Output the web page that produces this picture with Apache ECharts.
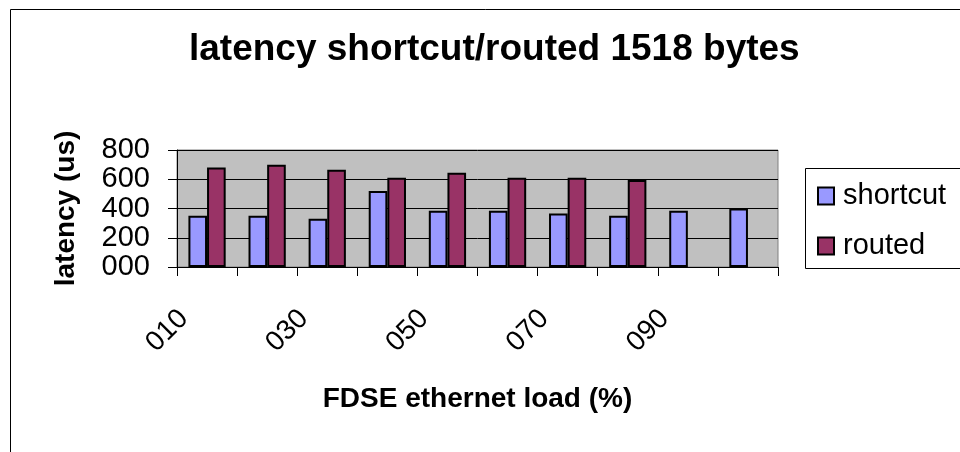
<!DOCTYPE html>
<html>
<head>
<meta charset="utf-8">
<title>latency shortcut/routed 1518 bytes</title>
<script src="https://cdn.jsdelivr.net/npm/echarts@6/dist/echarts.min.js"></script>
<style>
  html, body { margin: 0; padding: 0; background: #fff; }
  #chart { width: 960px; height: 452px; }
</style>
</head>
<body>
<div id="chart"></div>
<script>
// FDSE ethernet load (%), one category per 10 %
const categories = ['010', '020', '030', '040', '050', '060', '070', '080', '090', '100']
// latency in us
const shortcutData = [350, 350, 330, 520, 385, 385, 365, 350, 385, 400]
const routedData = [680, 700, 665, 610, 645, 610, 610, 595, null, null]
const seriesNames = ['shortcut', 'routed']
const yMax = 800
const yStep = 200

const font = '"Liberation Sans", Arial, sans-serif'

const chart = echarts.init(document.getElementById('chart'), null, { renderer: 'canvas' })

chart.setOption({
  animation: false,
  backgroundColor: '#fff',
  textStyle: { fontFamily: font, color: '#000' },
  title: {
    text: 'latency shortcut/routed 1518 bytes',
    left: 189,
    top: 31,
    padding: 0,
    textStyle: { fontSize: 37, fontWeight: 'bold', color: '#000', fontFamily: font },
  },
  // outer frame + legend box (frame runs off the right/bottom edge)
  graphic: [
    {
      type: 'rect',
      shape: { x: 10.5, y: 9.5, width: 1000, height: 500 },
      style: { fill: 'none', stroke: '#000', lineWidth: 1 },
      z: -10,
    },
    {
      type: 'rect',
      shape: { x: 805.5, y: 168.5, width: 200, height: 100 },
      style: { fill: '#fff', stroke: '#000', lineWidth: 1 },
      z: 1,
    },
  ],
  legend: {
    data: seriesNames,
    orient: 'vertical',
    left: 817,
    top: 181,
    padding: 0,
    itemGap: 20,
    itemWidth: 16,
    itemHeight: 17,
    icon: 'rect',
    z: 5,
    textStyle: { fontSize: 29, lineHeight: 30, color: '#000', fontFamily: font, padding: [0, 0, 0, 4] },
  },
  grid: {
    left: 177,
    top: 150,
    width: 601,
    height: 117,
    show: true,
    backgroundColor: '#c0c0c0',
    borderColor: '#808080',
    borderWidth: 1,
  },
  xAxis: {
    type: 'category',
    data: categories,
    name: 'FDSE ethernet load (%)',
    nameLocation: 'middle',
    nameGap: 118,
    nameTextStyle: { fontSize: 28, fontWeight: 'bold', color: '#000', fontFamily: font },
    axisLine: { lineStyle: { color: '#000', width: 1 } },
    axisTick: { show: true, interval: 0, length: 9, lineStyle: { color: '#000' } },
    axisLabel: {
      interval: 1,
      rotate: 45,
      margin: 24,
      fontSize: 28,
      color: '#000',
      fontFamily: font,
      padding: [0, 33, 0, 0],
    },
    splitLine: { show: false },
  },
  yAxis: {
    type: 'value',
    min: 0,
    max: yMax,
    interval: yStep,
    name: 'latency (us)',
    nameLocation: 'middle',
    nameGap: 97,
    nameTextStyle: { fontSize: 28, fontWeight: 'bold', color: '#000', fontFamily: font },
    axisLine: { show: true, lineStyle: { color: '#000', width: 1 } },
    axisTick: { show: true, length: 9, lineStyle: { color: '#000' } },
    axisLabel: {
      margin: 27,
      fontSize: 29,
      color: '#000',
      fontFamily: font,
      formatter: v => String(v).padStart(3, '0'),
    },
    splitLine: { show: true, lineStyle: { color: '#000', width: 1 } },
  },
  series: [
    {
      name: seriesNames[0],
      type: 'bar',
      data: shortcutData,
      barGap: '0%',
      barCategoryGap: '38%',
      itemStyle: { color: '#9999ff', borderColor: '#000', borderWidth: 2 },
    },
    {
      name: seriesNames[1],
      type: 'bar',
      data: routedData,
      barGap: '0%',
      barCategoryGap: '38%',
      itemStyle: { color: '#993366', borderColor: '#000', borderWidth: 2 },
    },
  ],
})
</script>
</body>
</html>
